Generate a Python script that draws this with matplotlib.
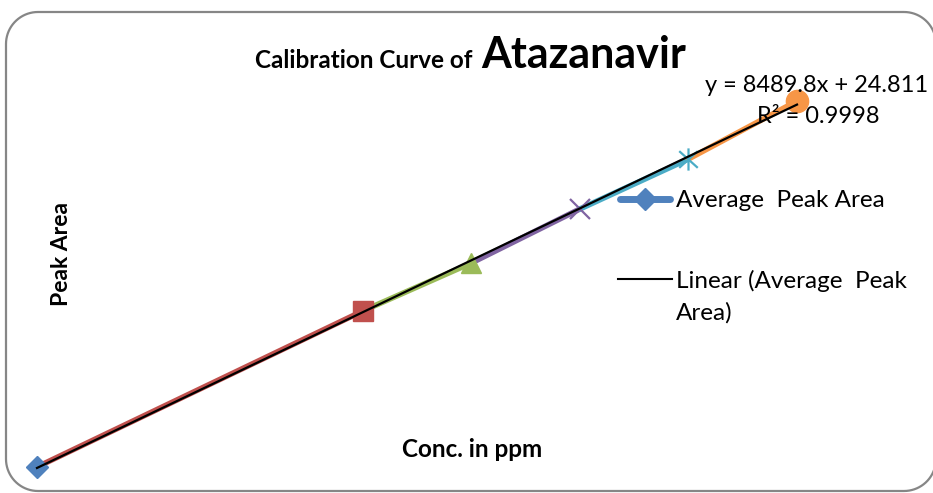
import numpy as np
import matplotlib
matplotlib.use("Agg")
import matplotlib.pyplot as plt
from matplotlib.patches import PathPatch
from matplotlib.path import Path
from matplotlib.lines import Line2D

# ---- data ----
conc = [1, 4, 5, 6, 7, 8]
peak_area = [8677, 34190, 42040, 50872, 59050, 68535]
series_name = "Average  Peak Area"
title_small = "Calibration Curve of "
title_big = "Atazanavir"
x_label = "Conc. in ppm"
y_label = "Peak Area"

colors = ["#4F81BD", "#C0504D", "#9BBB59", "#8064A2", "#4BACC6", "#F79646"]

W, H = 933, 493
fig = plt.figure(figsize=(W / 100, H / 100), dpi=100)
plt.rcParams['font.family'] = ['Lato', 'DejaVu Sans']

def fx(px):
    return px / W

def fy(py):
    return 1 - py / H

# rounded border in pixel space
def rounded_rect(x0, y0, x1, y1, r, n=20):
    pts = []
    corners = [(x1 - r, y0 + r, -90, 0), (x1 - r, y1 - r, 0, 90),
               (x0 + r, y1 - r, 90, 180), (x0 + r, y0 + r, 180, 270)]
    for cx, cy, a0, a1 in corners:
        for a in np.linspace(np.radians(a0), np.radians(a1), n):
            pts.append((cx + r * np.cos(a), cy + r * np.sin(a)))
    pts.append(pts[0])
    return [(fx(px), fy(py)) for px, py in pts]

bpts = rounded_rect(6, 12, 936, 491, 32)
border = PathPatch(Path(bpts), transform=fig.transFigure, facecolor="none",
                   edgecolor="#868686", linewidth=1.6, zorder=-1)
fig.patches.append(border)

ax = fig.add_axes([0, 0, 1, 1])
ax.set_facecolor("none")
ax.axis("off")
ax.set_xlim(0.6592, 9.2526)
ax.set_ylim(4424, 85054)

x = np.array(conc, dtype=float)
y = np.array(peak_area, dtype=float)

# segments coloured by endpoint
for i in range(1, len(x)):
    ax.plot(x[i - 1:i + 1], y[i - 1:i + 1], color=colors[i], lw=4,
            solid_capstyle="round", zorder=2)

# markers
star = Path([(-1, -0.9), (1, 0.9), (-1, 0.9), (1, -0.9), (0, -1.2), (0, 1.2)],
            [Path.MOVETO, Path.LINETO, Path.MOVETO, Path.LINETO, Path.MOVETO, Path.LINETO])
ax.plot(x[0], y[0], marker="D", ms=11, color=colors[0], mec=colors[0], zorder=3)
ax.plot(x[1], y[1], marker="s", ms=15, color=colors[1], mec=colors[1], zorder=3)
ax.plot(x[2], y[2], marker="^", ms=15, color=colors[2], mec=colors[2], zorder=3)
ax.plot(x[3], y[3], marker="x", ms=15, mew=1.6, color=colors[3], zorder=3)
ax.plot(x[4], y[4], marker=star, ms=16, mew=1.6, color=colors[4], fillstyle="none", zorder=3)
ax.plot(x[5], y[5], marker="o", ms=16, color=colors[5], mec=colors[5], zorder=3)

# linear trendline
m, b = np.polyfit(x, y, 1)
xt = np.array([x[0], x[-1]])
ax.plot(xt, m * xt + b, color="black", lw=1.6, zorder=4)

# title
fig.text(fx(478), fy(68), title_small, ha="right", va="baseline",
         fontsize=17.5, fontweight="bold")
fig.text(fx(481), fy(68), title_big, ha="left", va="baseline",
         fontsize=31, fontweight="bold")

# equation
fig.text(fx(817), fy(92), "y = 8489.8x + 24.811", ha="center", va="baseline", fontsize=17)
fig.text(fx(818), fy(123), "R² = 0.9998", ha="center", va="baseline", fontsize=17)

# axis labels
fig.text(fx(61), fy(254), y_label, rotation=90, ha="center", va="center",
         fontsize=16.5, fontweight="bold")
fig.text(fx(472), fy(457), x_label, ha="center", va="baseline",
         fontsize=17.5, fontweight="bold")

# legend (manual)
fig.lines.append(Line2D([fx(620), fx(670)], [fy(199), fy(199)], transform=fig.transFigure,
                        color=colors[0], lw=5, solid_capstyle="round"))
fig.lines.append(Line2D([fx(645)], [fy(199)], transform=fig.transFigure,
                        color=colors[0], marker="D", ms=11))
fig.text(fx(676), fy(207), series_name, ha="left", va="baseline", fontsize=17.5)
fig.lines.append(Line2D([fx(618), fx(672)], [fy(279), fy(279)], transform=fig.transFigure,
                        color="black", lw=1.5))
fig.text(fx(676), fy(288), "Linear (Average  Peak", ha="left", va="baseline", fontsize=17.5)
fig.text(fx(676), fy(320), "Area)", ha="left", va="baseline", fontsize=17.5)

fig.savefig("out.png", dpi=100)
